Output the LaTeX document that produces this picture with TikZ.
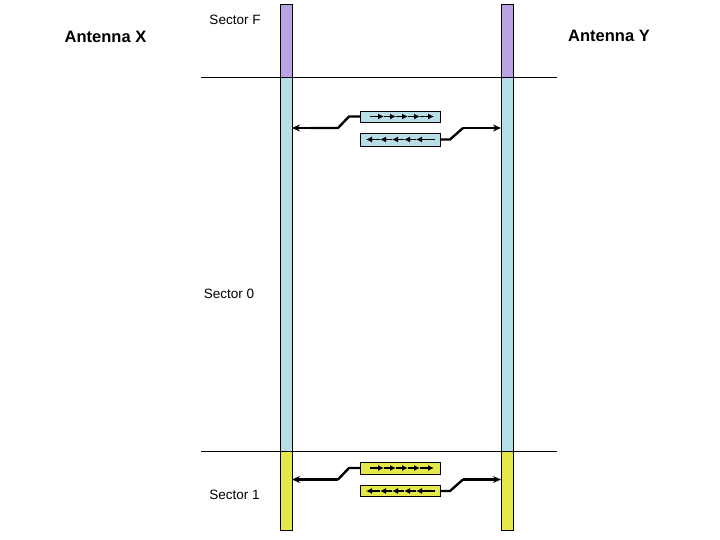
\documentclass[tikz,border=0pt]{standalone}
\usepackage{fontspec}
\setmainfont{Liberation Sans}
\usetikzlibrary{arrows.meta}
\definecolor{lav}{RGB}{185,163,227}
\definecolor{lblue}{RGB}{183,221,230}
\definecolor{lyel}{RGB}{229,232,74}
\tikzset{
  bar/.style={draw=black, line width=0.8pt},
  pkt/.style={draw=black, line width=0.8pt, minimum width=80pt, minimum height=12pt, inner sep=0pt, outer sep=0pt},
  link/.style={line width=2.4pt, -{Stealth[length=8pt,width=7pt]}},
  plain/.style={line width=2.4pt},
  small/.style={line width=1.5pt, -{Latex[length=6pt,width=6pt]}},
  divider/.style={line width=0.6pt},
  lbl/.style={font=\fontsize{13.5}{16}\selectfont, anchor=center},
  ant/.style={font=\fontsize{16.5}{19}\selectfont\bfseries, anchor=center}
}
\begin{document}
\begin{tikzpicture}[x=1pt,y=-1pt]
\useasboundingbox (0,0) rectangle (720,540);
% bars
\foreach \x in {280,501}{
  \fill[lav] (\x,4) rectangle (\x+12,77);
  \fill[lblue] (\x,77) rectangle (\x+12,451);
  \fill[lyel] (\x,451) rectangle (\x+12,530);
  \draw[bar] (\x,4) rectangle (\x+12,530);
}
\coordinate (LB1) at (292,128);
\coordinate (RB1) at (501,128);
\coordinate (LB2) at (292,479.5);
\coordinate (RB2) at (501,479.5);
% dividers
\coordinate (d1a) at (201,77); \coordinate (d1b) at (557,77);
\coordinate (d2a) at (201,451); \coordinate (d2b) at (557,451);
\draw[divider] (d1a) -- (d1b);
\draw[divider] (d2a) -- (d2b);
% labels
\node[ant] (ax) at (105.5,37) {Antenna X};
\node[ant] (ay) at (609,36) {Antenna Y};
\node[lbl] (sf) at (235,20) {Sector F};
\node[lbl] (s0) at (229,294) {Sector 0};
\node[lbl] (s1) at (234.5,495) {Sector 1};
% upper packets
\node[pkt, fill=lblue, minimum height=11pt] (u1) at (400,116.5) {};
\node[pkt, fill=lblue, minimum height=13pt] (u2) at (400,139.5) {};
\draw[plain] (u1.west) -- ++(-11,0) -- (338,128) -- (310,128);
\draw[link] (338,128) -- (LB1);
\draw[plain] (u2.east) -- ++(10,0) -- (463,128);
\draw[link] (463,128) -- (RB1);
% lower packets
\node[pkt, fill=lyel, minimum height=12pt] (w1) at (400,468) {};
\node[pkt, fill=lyel, minimum height=11pt] (w2) at (400,491) {};
\draw[plain] (w1.west) -- ++(-11,0) -- (338,479.5);
\draw[link] (338,479.5) -- (LB2);
\draw[plain] (w2.east) -- ++(10,0) -- (463,479.5);
\draw[link] (463,479.5) -- (RB2);
% inner arrows
\foreach \y in {116.5,468}{
  \draw[line width=1.5pt] (370,\y) -- (376,\y);
  \foreach \a/\b in {370/384,384/396,396/408,408/420,420/434}{
    \draw[small] (\a,\y) -- (\b,\y);
  }
}
\foreach \y in {139.5,491}{
  \draw[line width=1.5pt] (435,\y) -- (424,\y);
  \foreach \a/\b in {428/416,416/404,404/392,392/380,380/366}{
    \draw[small] (\a,\y) -- (\b,\y);
  }
}
\end{tikzpicture}
\end{document}
